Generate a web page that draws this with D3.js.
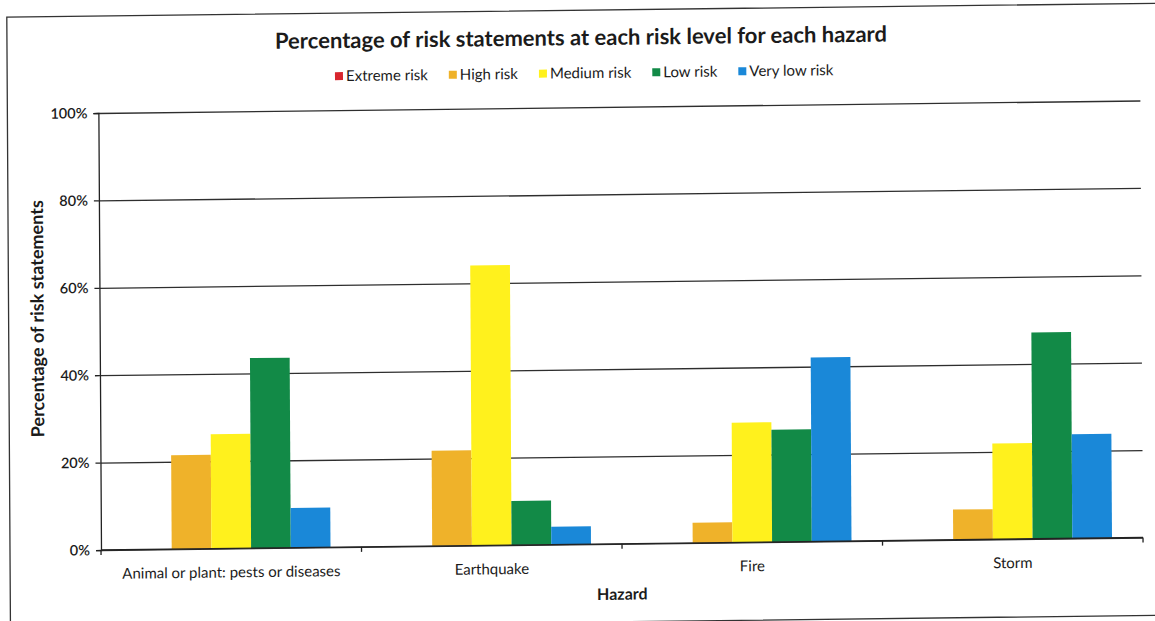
<!DOCTYPE html>
<html>
<head>
<meta charset="utf-8">
<script src="https://cdn.jsdelivr.net/npm/d3@7"></script>
<style>
  html, body { margin: 0; padding: 0; background: #fff; }
  svg text { font-family: Lato, "Open Sans", sans-serif; fill: #1b1b1b; }
</style>
</head>
<body>
<div id="app"></div>
<script>
// data (percent of risk statements)
const hazards = ["Animal or plant: pests or diseases", "Earthquake", "Fire", "Storm"];
const levels = ["Extreme risk", "High risk", "Medium risk", "Low risk", "Very low risk"];
const levelColors = ["#d8262e", "#efb22a", "#fff11d", "#128a47", "#1a88d8"];
const extremeRisk = [0, 0, 0, 0];
const highRisk = [21.5, 21.8, 4.6, 6.9];
const mediumRisk = [26.2, 64.1, 27.4, 21.9];
const lowRisk = [43.5, 10.1, 25.7, 47.2];
const veryLowRisk = [9.1, 4.1, 42.1, 23.8];
const yTicks = [0, 20, 40, 60, 80, 100];

const seriesValues = [extremeRisk, highRisk, mediumRisk, lowRisk, veryLowRisk];

const W = 1155, H = 621;
const mLeft = 101, mTop = 113, w = 1042, h = 437;

const svg = d3.select("#app").append("svg").attr("width", W).attr("height", H)
  .style("display", "block");

// the source is a slightly skewed scan, so tilt everything a bit
const root = svg.append("g")
  .attr("transform", "translate(101,550) matrix(1,-0.012,0.006,1,0,0) translate(-101,-550)");

// outer chart frame
root.append("rect")
  .attr("x", 10).attr("y", 16).attr("width", 1170).attr("height", 612)
  .attr("fill", "none").attr("stroke", "#333").attr("stroke-width", 1.3);

// title
root.append("text")
  .attr("x", 584).attr("y", 51)
  .attr("text-anchor", "middle")
  .style("font-size", "22px").style("font-weight", "bold")
  .text("Percentage of risk statements at each risk level for each hazard");

// legend
const legend = root.append("g").attr("transform", "translate(0,79)");
const items = legend.selectAll("g").data(levels).join("g");
items.append("rect").attr("y", -4).attr("width", 8).attr("height", 8)
  .attr("fill", (d, i) => levelColors[i]);
items.append("text").attr("x", 11).attr("y", 5)
  .style("font-size", "15px").text((d) => d);
let lx = 0;
const offsets = [];
items.each(function () {
  offsets.push(lx);
  lx += 11 + d3.select(this).select("text").node().getComputedTextLength() + 21;
});
lx -= 21;
const lstart = 587 - lx / 2;
items.attr("transform", (d, i) => `translate(${lstart + offsets[i]},0)`);

const plot = root.append("g").attr("transform", `translate(${mLeft},${mTop})`);

const y = d3.scaleLinear().domain([0, 100]).range([h, 0]);
const x0 = d3.scaleBand().domain(hazards).range([0, w]);
const bw = x0.bandwidth();
const x1 = d3.scaleBand().domain(levels).range([31, bw - 31]);

// gridlines
plot.append("g")
  .call(d3.axisLeft(y).tickValues(yTicks).tickSize(-w).tickFormat(""))
  .call((g) => g.select(".domain").remove())
  .selectAll("line").attr("stroke", "#2e2e2e").attr("stroke-width", 1.3);

// bars
plot.append("g").selectAll("g")
  .data(hazards)
  .join("g")
  .attr("transform", (d) => `translate(${x0(d)},0)`)
  .selectAll("rect")
  .data((d, i) => levels.map((lv, j) => ({ lv, j, v: seriesValues[j][i] })))
  .join("rect")
  .attr("x", (d) => x1(d.lv))
  .attr("width", x1.bandwidth())
  .attr("y", (d) => y(d.v))
  .attr("height", (d) => h - y(d.v))
  .attr("fill", (d) => levelColors[d.j]);

// y axis
const yAxis = plot.append("g")
  .call(d3.axisLeft(y).tickValues(yTicks).tickSize(5).tickPadding(6).tickFormat((d) => d + "%"));
yAxis.selectAll("text").style("font-size", "14.5px").style("font-family", "Lato, sans-serif")
  .style("font-weight", "600");
yAxis.selectAll("line, path").attr("stroke", "#222").attr("stroke-width", 1.3);

// x axis: labels centred, ticks on category boundaries
const xAxis = plot.append("g").attr("transform", `translate(0,${h})`);
xAxis.append("line").attr("x1", 0).attr("x2", w)
  .attr("stroke", "#222").attr("stroke-width", 1.3);
xAxis.selectAll(".bt")
  .data(hazards.map((d) => x0(d)).concat([w]))
  .join("line").attr("class", "bt")
  .attr("x1", (d) => d).attr("x2", (d) => d)
  .attr("y1", 0).attr("y2", 5)
  .attr("stroke", "#222").attr("stroke-width", 1.3);
xAxis.selectAll(".lbl")
  .data(hazards)
  .join("text").attr("class", "lbl")
  .attr("x", (d) => x0(d) + bw / 2).attr("y", 29)
  .attr("text-anchor", "middle")
  .style("font-size", "15px")
  .text((d) => d);

// axis titles
root.append("text")
  .attr("x", mLeft + w / 2).attr("y", 606)
  .attr("text-anchor", "middle")
  .style("font-size", "16px").style("font-weight", "bold")
  .text("Hazard");

root.append("text")
  .attr("transform", "translate(45,318) rotate(-90)")
  .attr("text-anchor", "middle")
  .style("font-size", "18px").style("font-weight", "bold")
  .text("Percentage of risk statements");
</script>
</body>
</html>
